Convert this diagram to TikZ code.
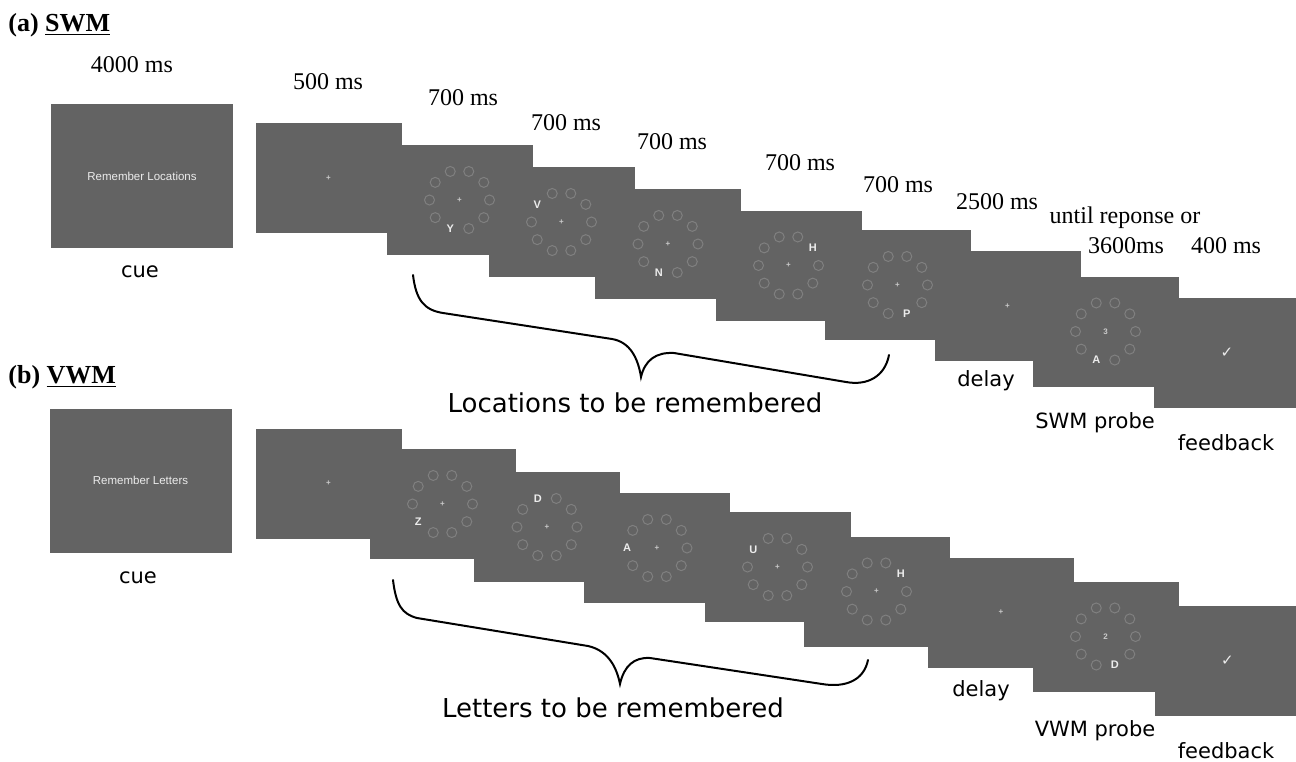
\documentclass[tikz,border=0pt]{standalone}
\usepackage{fontspec}
\setmainfont{Liberation Serif}
\newfontfamily\labelfont{DejaVu Sans}
\newfontfamily\screenfont{Liberation Sans}
\usetikzlibrary{positioning}
\definecolor{screengray}{RGB}{99,99,99}
\definecolor{ringgray}{RGB}{128,128,128}
\definecolor{inkwhite}{RGB}{236,236,236}
\tikzset{
  screenbox/.style={fill=screengray, minimum width=73pt, minimum height=55pt, inner sep=0pt},
  cuebox/.style={screenbox, minimum width=91pt, minimum height=72pt, text=inkwhite, font=\screenfont\fontsize{5.75}{7}\selectfont},
  msnote/.style={font=\fontsize{12}{14}\selectfont, inner sep=0pt},
  stagenote/.style={font=\labelfont\fontsize{10.5}{12}\selectfont, inner sep=0pt},
  bracenote/.style={font=\labelfont\fontsize{13}{15}\selectfont, inner sep=0pt},
  headnote/.style={font=\fontsize{13}{15}\selectfont\bfseries, anchor=west, inner sep=0pt},
  stimletter/.style={text=inkwhite, font=\screenfont\bfseries\fontsize{5.5}{6}\selectfont, inner sep=0pt},
  fixcross/.style={text=inkwhite!75!screengray, font=\screenfont\bfseries\fontsize{4}{4}\selectfont, inner sep=0pt},
  ticknote/.style={text=inkwhite, font=\labelfont\bfseries\fontsize{7.5}{8}\selectfont, inner sep=0pt},
  bracestroke/.style={line width=1pt, line cap=round},
  pics/ring/.style n args={3}{code={
      \foreach \a in {0,36,...,324}{
        \ifnum\a=#1\relax\else
          \draw[ringgray, line width=0.5pt] ({30*cos(\a)},{-30*sin(\a)}) circle[radius=2.5pt];
        \fi}
      \node[stimletter] at ({30*cos(#1)},{-30*sin(#1)}) {#2};
      \node[fixcross] at (0,0) {#3};
  }},
}
\begin{document}
\begin{tikzpicture}[x=0.5pt, y=-0.5pt]
\useasboundingbox (0,0) rectangle (1296,761);

% (a) spatial working memory
\node[headnote] (headA) at (8,25) {(a) \underline{SWM}};
\node[cuebox] (cueA) at (142,176) {Remember Locations}; % cue screen
\node[screenbox] (a1) at (328.5,178) {};
\node[screenbox] (a2) at (459.5,200) {};
\node[screenbox] (a3) at (561.5,222) {};
\node[screenbox] (a4) at (668,244) {};
\node[screenbox] (a5) at (788.5,265.5) {};
\node[screenbox] (a6) at (897.5,285) {};
\node[screenbox] (a7) at (1007.5,306) {}; % delay
\node[screenbox] (a8) at (1105.5,331.5) {}; % probe
\node[screenbox] (a9) at (1227,352.5) {}; % feedback
\node[fixcross] (a1fix) at (a1) {+};
\pic at (a2) {ring={252}{Y}{+}};
\pic at (a3) {ring={144}{V}{+}};
\pic at (a4) {ring={252}{N}{+}};
\pic at (a5) {ring={36}{H}{+}};
\pic at (a6) {ring={288}{P}{+}};
\node[fixcross] (a7fix) at (a7) {+};
\pic at (a8) {ring={252}{A}{3}};
\node[ticknote] (a9tick) at (a9) {✓};

\node[msnote] (tA0) at (132,65) {4000 ms};
\node[msnote] (tA1) at (328,82) {500 ms};
\node[msnote] (tA2) at (463,98) {700 ms};
\node[msnote] (tA3) at (566,123) {700 ms};
\node[msnote] (tA4) at (672,142) {700 ms};
\node[msnote] (tA5) at (800,163) {700 ms};
\node[msnote] (tA6) at (898,185) {700 ms};
\node[msnote] (tA7) at (997,202) {2500 ms};
\node[msnote] (tA8) at (1125,218) {until reponse or};
\node[msnote] (tA9) at (1126,246) {3600ms};
\node[msnote] (tA10) at (1226,246) {400 ms};

\node[stagenote] (cueAlab) at (140,272) {cue};
\node[stagenote] (delayA) at (986,381) {delay};
\node[stagenote] (probeA) at (1095,423) {SWM probe};
\node[stagenote] (fbA) at (1226,443) {feedback};

\draw[bracestroke] (413,275) .. controls (416,300) and (424,310) .. (443,313) -- (612,339)
  .. controls (630,342) and (638,358) .. (641,377) .. controls (645,360) and (656,352) .. (674,353)
  -- (846,382) .. controls (868,386) and (885,376) .. (889,355); % brace over the letters
\node[bracenote] (braceA) at (635,403) {Locations to be remembered};

% (b) verbal working memory
\node[headnote] (headB) at (8,377) {(b) \underline{VWM}};
\node[cuebox] (cueB) at (140.5,480.5) {Remember Letters};
\node[screenbox] (b1) at (328.5,483.5) {};
\node[screenbox] (b2) at (442.5,504) {};
\node[screenbox] (b3) at (547,527) {};
\node[screenbox] (b4) at (657,548) {};
\node[screenbox] (b5) at (777.5,567) {};
\node[screenbox] (b6) at (876.5,591.5) {};
\node[screenbox] (b7) at (1001,612.5) {}; % delay
\node[screenbox] (b8) at (1105.5,636.5) {}; % probe
\node[screenbox] (b9) at (1227.5,660.5) {}; % feedback
\node[fixcross] (b1fix) at (b1) {+};
\pic at (b2) {ring={216}{Z}{+}};
\pic at (b3) {ring={108}{D}{+}};
\pic at (b4) {ring={180}{A}{+}};
\pic at (b5) {ring={144}{U}{+}};
\pic at (b6) {ring={36}{H}{+}};
\node[fixcross] (b7fix) at (b7) {+};
\pic at (b8) {ring={288}{D}{2}};
\node[ticknote] (b9tick) at (b9) {✓};

\node[stagenote] (cueBlab) at (138,578) {cue};
\node[stagenote] (delayB) at (981,691) {delay};
\node[stagenote] (probeB) at (1095,731) {VWM probe};
\node[stagenote] (fbB) at (1226,751) {feedback};

\draw[bracestroke] (393,580) .. controls (396,605) and (402,614) .. (417,618) -- (588,646)
  .. controls (606,650) and (616,664) .. (620,684) .. controls (624,666) and (634,657) .. (650,658)
  -- (822,684) .. controls (846,688) and (864,680) .. (868,660);
\node[bracenote] (braceB) at (613,708) {Letters to be remembered};
\end{tikzpicture}
\end{document}
